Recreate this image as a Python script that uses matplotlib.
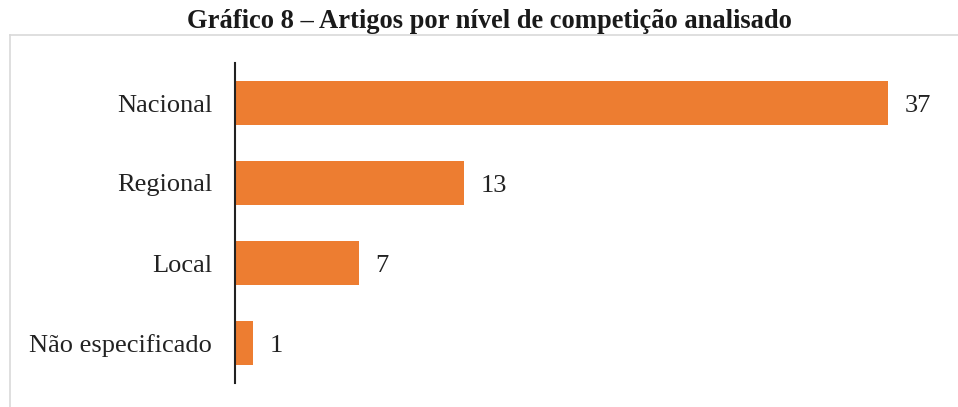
import matplotlib.pyplot as plt
from matplotlib.lines import Line2D

categorias = ["Nacional", "Regional", "Local", "Não especificado"]
artigos = [37, 13, 7, 1]
titulo = "Gráfico 8 – Artigos por nível de competição analisado"

plt.rcParams["font.family"] = ["Liberation Serif", "DejaVu Serif"]

W, H = 958, 407
fig = plt.figure(figsize=(W / 100, H / 100), dpi=100)

# light grey frame of the chart area (top and left edges visible)
fig.add_artist(Line2D([10 / W, 1], [1 - 35 / H, 1 - 35 / H], color="#d9d9d9", lw=1.2))
fig.add_artist(Line2D([10 / W, 10 / W], [0, 1 - 35 / H], color="#d9d9d9", lw=1.2))

fig.text(489 / W, 1 - 21 / H, titulo, ha="center", va="center",
         fontsize=19.1, fontweight="bold", color="#1a1a1a")

ax = fig.add_axes([235 / W, 24 / H, 653 / W, 320 / H])
pos = list(range(len(categorias)))
ax.barh(pos, artigos, height=0.54, color="#ED7D31")
ax.set_xlim(0, 37)
ax.set_ylim(len(categorias) - 0.5, -0.5)
ax.set_yticks(pos)
ax.set_yticklabels(categorias, fontsize=19, color="#222222")
ax.tick_params(axis="y", length=0, pad=16.5)
ax.set_xticks([])
for s in ["top", "right", "bottom"]:
    ax.spines[s].set_visible(False)
ax.spines["left"].set_color("#222222")
ax.spines["left"].set_linewidth(1.5)

for p, v in zip(pos, artigos):
    ax.annotate(str(v), (v, p), xytext=(12, 0), textcoords="offset points",
                ha="left", va="center_baseline", fontsize=19, color="#222222")

fig.savefig("out.png", dpi=100)
